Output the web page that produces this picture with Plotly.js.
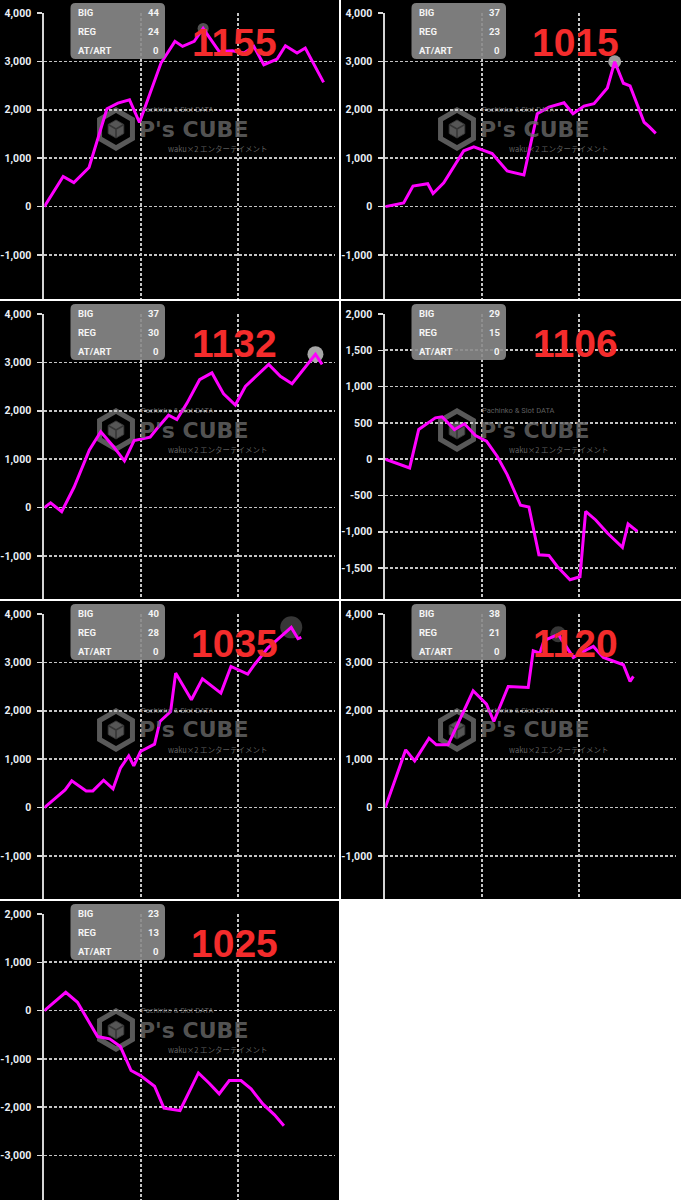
<!DOCTYPE html>
<html>
<head>
<meta charset="utf-8">
<script src="https://cdn.plot.ly/plotly-3.0.1.min.js"></script>
<style>html,body{margin:0;padding:0;background:#fff;}#chart{width:681px;height:1200px;}</style>
</head>
<body>
<div id="chart"></div>
<script>
// ---------- DATA ----------
const machineNumbers = ['1155', '1015', '1132', '1106', '1035', '1120', '1025'];
const bigCounts = [44, 37, 37, 29, 40, 38, 23];
const regCounts = [24, 23, 30, 15, 28, 21, 13];
const atArtCounts = [0, 0, 0, 0, 0, 0, 0];

const games1155 = [0, 390, 610, 924, 1294, 1520, 1760, 1966, 2410, 2698, 2856, 3096, 3280, 3610, 3884, 4124, 4328, 4534, 4808, 4980, 5220, 5390, 5768];
const diff1155 = [0, 621, 497, 807, 2021, 2138, 2207, 1738, 2966, 3414, 3310, 3414, 3680, 3207, 3220, 3172, 3310, 2931, 3048, 3324, 3172, 3276, 2566];

const games1015 = [0, 379, 572, 876, 986, 1207, 1621, 1828, 2207, 2517, 2862, 3138, 3379, 3690, 3876, 4103, 4310, 4586, 4738, 4917, 5055, 5345, 5448, 5586];
const diff1015 = [0, 76, 424, 472, 271, 493, 1153, 1236, 1097, 736, 653, 1917, 2056, 2146, 1917, 2076, 2125, 2451, 2993, 2549, 2493, 1743, 1653, 1514];

const games1132 = [0, 131, 359, 614, 931, 1166, 1414, 1655, 1855, 2186, 2324, 2566, 2738, 2945, 3207, 3462, 3703, 3945, 4152, 4634, 4876, 5117, 5600, 5738];
const diff1132 = [0, 98, -84, 420, 1189, 1566, 1280, 965, 1385, 1455, 1629, 1909, 1818, 2154, 2643, 2783, 2350, 2119, 2503, 2958, 2713, 2559, 3168, 2958];

const games1106 = [0, 503, 690, 1034, 1172, 1428, 1634, 1862, 2090, 2310, 2517, 2793, 2966, 3172, 3379, 3552, 3814, 4021, 4138, 4345, 4586, 4897, 5014, 5207];
const diff1106 = [0, -120, 409, 570, 584, 409, 488, 327, 248, 41, -212, -635, -658, -1316, -1325, -1477, -1661, -1619, -718, -837, -1017, -1214, -892, -994];

const games1035 = [0, 429, 567, 865, 1003, 1225, 1419, 1571, 1744, 1848, 1986, 2277, 2388, 2609, 2713, 3038, 3266, 3647, 3855, 4201, 4339, 4616, 5100, 5239, 5308];
const diff1035 = [0, 366, 552, 345, 345, 566, 386, 814, 1069, 862, 1159, 1310, 1779, 1986, 2779, 2228, 2662, 2366, 2917, 2759, 2952, 3297, 3724, 3490, 3517];

const games1120 = [0, 421, 607, 903, 1055, 1297, 1814, 2090, 2241, 2538, 2952, 3055, 3193, 3276, 3572, 3883, 4159, 4297, 4503, 4917, 5055, 5124];
const diff1120 = [0, 1193, 966, 1434, 1297, 1297, 2414, 2138, 1779, 2503, 2483, 3241, 3193, 3448, 3580, 3103, 3262, 3331, 3103, 2952, 2607, 2710];

const games1025 = [0, 443, 685, 1100, 1349, 1571, 1792, 1986, 2277, 2471, 2803, 3183, 3405, 3612, 3820, 4062, 4270, 4512, 4754, 4948];
const diff1025 = [0, 379, 172, -538, -586, -745, -1241, -1345, -1566, -2021, -2069, -1290, -1503, -1724, -1448, -1448, -1621, -1931, -2159, -2386];

// highlighted point (index into each series, -1 = none)
const highlightIndex = [12, 18, 22, -1, 22, 14, -1];

const seriesX = [games1155, games1015, games1132, games1106, games1035, games1120, games1025];
const seriesY = [diff1155, diff1015, diff1132, diff1106, diff1035, diff1120, diff1025];

// ---------- LAYOUT GEOMETRY ----------
const W = 681, H = 1200;
const fx = px => px / W;
const fy = py => 1 - py / H;
const panelLeft = [0, 341, 0, 341, 0, 341, 0];
const panelRight = [339, 681, 339, 681, 339, 681, 339];
const panelTop = [0, 0, 301, 301, 601, 601, 901];
const panelBottom = [299, 299, 599, 599, 899, 899, 1200];
const topVal = [4000, 4000, 4000, 2000, 4000, 4000, 2000];
const pxPerK = [48.4, 48.4, 48.4, 72.6, 48.4, 48.4, 48.3];
const yStep = [1000, 1000, 1000, 500, 1000, 1000, 1000];
const hlStyle = [
  {color: 'rgba(85,85,85,0.95)', size: 11},
  {color: 'rgba(185,185,185,0.85)', size: 13},
  {color: 'rgba(185,185,185,0.9)', size: 16},
  null,
  {color: 'rgba(55,55,55,1)', size: 22},
  {color: 'rgba(55,55,55,1)', size: 16},
  null
];

const traces = [];
const layout = {
  width: W, height: H,
  margin: {l: 0, r: 0, t: 0, b: 0, pad: 0},
  paper_bgcolor: '#ffffff',
  plot_bgcolor: '#000000',
  showlegend: false,
  shapes: [],
  annotations: []
};

function P(x, y) { return fx(x).toFixed(6) + ',' + fy(y).toFixed(6); }
function rrect(x0, y0, x1, y1, r) {
  return 'M' + P(x0 + r, y0) + ' L' + P(x1 - r, y0) + ' Q' + P(x1, y0) + ' ' + P(x1, y0 + r) +
    ' L' + P(x1, y1 - r) + ' Q' + P(x1, y1) + ' ' + P(x1 - r, y1) +
    ' L' + P(x0 + r, y1) + ' Q' + P(x0, y1) + ' ' + P(x0, y1 - r) +
    ' L' + P(x0, y0 + r) + ' Q' + P(x0, y0) + ' ' + P(x0 + r, y0) + ' Z';
}
function hexPath(cx, cy, r) {
  let s = '';
  for (let k = 0; k < 6; k++) {
    const a = Math.PI / 2 - k * Math.PI / 3;
    const x = cx + r * Math.cos(a), y = cy - r * Math.sin(a);
    s += (k === 0 ? 'M' : ' L') + P(x, y);
  }
  return s + ' Z';
}
function fmt(v) {
  const a = Math.abs(v).toLocaleString('en-US');
  return (v < 0 ? '-' : '') + a;
}

for (let i = 0; i < 7; i++) {
  const L = panelLeft[i], T = panelTop[i], B = panelBottom[i], R = panelRight[i];
  const n = i + 1;
  const xName = n === 1 ? 'xaxis' : 'xaxis' + n;
  const yName = n === 1 ? 'yaxis' : 'yaxis' + n;
  const xRef = n === 1 ? 'x' : 'x' + n;
  const yRef = n === 1 ? 'y' : 'y' + n;

  // panel background
  layout.shapes.push({type: 'rect', xref: 'paper', yref: 'paper', layer: 'below',
    x0: fx(L), x1: fx(R), y0: fy(B), y1: fy(T), fillcolor: '#000', line: {width: 0}});

  const topPx = T + 13;
  const axL = L + 44.3, axR = L + 335.3;
  layout[xName] = {
    domain: [fx(axL), fx(axR)], range: [0, 6010], anchor: yRef,
    showgrid: true, gridcolor: '#c4c4c4', gridwidth: 1.7, griddash: '3px,2px',
    dtick: 2000, tick0: 0, showticklabels: false, ticks: '', zeroline: false, showline: false,
    fixedrange: true
  };
  const rTop = topVal[i] + 0.4 / pxPerK[i] * 1000;
  const rBot = topVal[i] - (B - topPx) / pxPerK[i] * 1000;
  const tv = [], tt = [];
  for (let v = topVal[i]; v > rBot; v -= yStep[i]) { tv.push(v); tt.push(fmt(v)); }
  layout[yName] = {
    domain: [fy(B), fy(topPx - 0.4)], range: [rBot, rTop], anchor: xRef,
    showgrid: true, gridcolor: '#c4c4c4', gridwidth: 1.7, griddash: '3px,2px',
    tickmode: 'array', tickvals: tv, ticktext: tt,
    ticks: 'outside', ticklen: 5, tickwidth: 1.5,
    tickcolor: '#dcdcdc', ticklabelstandoff: 4,
    tickfont: {family: 'Roboto, Noto Sans, sans-serif', size: 10.5, color: '#e9eef5', weight: 700},
    showline: true, linecolor: '#d6d6d6', linewidth: 2, zeroline: false, fixedrange: true
  };

  // watermark icon
  const cx = L + 116, cy = T + 129;
  layout.shapes.push({type: 'path', xref: 'paper', yref: 'paper', layer: 'below',
    path: hexPath(cx, cy, 19), fillcolor: 'rgba(0,0,0,0)', line: {color: 'rgba(105,105,105,0.85)', width: 5}});
  layout.shapes.push({type: 'path', xref: 'paper', yref: 'paper', layer: 'below',
    path: hexPath(cx, cy, 9), fillcolor: 'rgba(95,95,95,0.9)', line: {color: 'rgba(60,60,60,0.9)', width: 1}});
  layout.shapes.push({type: 'path', xref: 'paper', yref: 'paper', layer: 'below',
    path: 'M' + P(cx, cy) + ' L' + P(cx, cy + 9) + ' M' + P(cx, cy) + ' L' + P(cx - 7.8, cy - 4.5) + ' M' + P(cx, cy) + ' L' + P(cx + 7.8, cy - 4.5),
    line: {color: 'rgba(50,50,50,0.9)', width: 1.5}});

  // info box
  layout.shapes.push({type: 'path', xref: 'paper', yref: 'paper', layer: 'above',
    path: rrect(L + 70.5, T + 3, L + 165, T + 59, 5), fillcolor: 'rgba(138,138,138,0.9)', line: {width: 0}});

  // traces: highlight marker then line
  if (highlightIndex[i] >= 0) {
    const k = highlightIndex[i];
    traces.push({type: 'scatter', mode: 'markers', xaxis: xRef, yaxis: yRef,
      x: [seriesX[i][k]], y: [seriesY[i][k]], hoverinfo: 'skip',
      marker: {color: hlStyle[i].color, size: hlStyle[i].size, line: {width: 0}}});
  }
  traces.push({type: 'scatter', mode: 'lines', xaxis: xRef, yaxis: yRef,
    x: seriesX[i], y: seriesY[i], hoverinfo: 'skip',
    line: {color: '#ff00ff', width: 3, shape: 'linear'}});

  // info box text
  const infoLabels = ['BIG', 'REG', 'AT/ART'];
  const infoVals = [bigCounts[i], regCounts[i], atArtCounts[i]];
  const rowY = [12.5, 31.5, 50.3];
  for (let r = 0; r < 3; r++) {
    layout.annotations.push({xref: 'paper', yref: 'paper', x: fx(L + 76), y: fy(T + rowY[r]),
      xanchor: 'left', yanchor: 'middle', showarrow: false, text: infoLabels[r],
      font: {family: 'Roboto, Noto Sans, sans-serif', size: 9.5, color: '#f4f4f4', weight: 700}});
    layout.annotations.push({xref: 'paper', yref: 'paper', x: fx(L + 161), y: fy(T + rowY[r]),
      xanchor: 'right', yanchor: 'middle', showarrow: false, text: String(infoVals[r]),
      font: {family: 'Roboto, Noto Sans, sans-serif', size: 9.5, color: '#f4f4f4', weight: 700}});
  }

  // watermark text
  layout.annotations.push({xref: 'paper', yref: 'paper', x: fx(L + 139), y: fy(T + 109.5),
    xanchor: 'left', yanchor: 'middle', showarrow: false, text: 'Pachinko & Slot DATA',
    font: {family: 'Roboto, sans-serif', size: 7.5, color: 'rgba(120,120,120,0.8)'}});
  layout.annotations.push({xref: 'paper', yref: 'paper', x: fx(L + 137), y: fy(T + 129),
    xanchor: 'left', yanchor: 'middle', showarrow: false, text: "P's CUBE",
    font: {family: 'DejaVu Sans, Noto Sans, sans-serif', size: 22, color: 'rgba(105,105,105,0.8)', weight: 700}});
  layout.annotations.push({xref: 'paper', yref: 'paper', x: fx(L + 166), y: fy(T + 148.5),
    xanchor: 'left', yanchor: 'middle', showarrow: false, text: 'waku×2 エンターテイメント',
    font: {family: 'Noto Sans CJK JP, sans-serif', size: 7.5, color: 'rgba(120,120,120,0.8)'}});

  // red machine number
  layout.annotations.push({xref: 'paper', yref: 'paper', x: fx(L + 234), y: fy(T + 42),
    xanchor: 'center', yanchor: 'middle', showarrow: false, text: machineNumbers[i],
    font: {family: 'Liberation Sans, Arial, sans-serif', size: 39, color: '#f42c2c', weight: 700}});
}

Plotly.newPlot('chart', traces, layout, {staticPlot: true, displayModeBar: false});
</script>
</body>
</html>
